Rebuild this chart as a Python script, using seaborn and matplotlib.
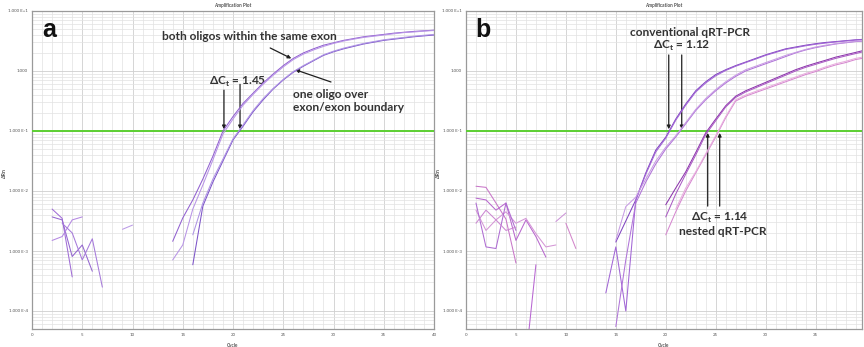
import numpy as np
import pandas as pd
import matplotlib
matplotlib.use('Agg')
import matplotlib.pyplot as plt
from matplotlib.ticker import MultipleLocator, LogLocator, FixedLocator, NullFormatter
import seaborn as sns

# delta Rn per cycle; every trace starts at the cycle given next to it
# ---- panel a ----
a_same_1_start = 14
a_same_1 = [1.45e-3, 3.55e-3, 7.1e-3, 0.0158, 0.038, 0.100, 0.174, 0.288, 0.427, 0.631,
            0.891, 1.23, 1.62, 2.00, 2.34, 2.69, 2.95, 3.24, 3.47, 3.72, 3.89, 4.07,
            4.27, 4.42, 4.57, 4.68, 4.79]
a_same_2_start = 14
a_same_2 = [7.1e-4, 1.26e-3, 5.0e-3, 0.0126, 0.033, 0.089, 0.158, 0.269, 0.407, 0.603,
            0.851, 1.17, 1.55, 1.91, 2.24, 2.57, 2.88, 3.16, 3.39, 3.63, 3.80, 3.98,
            4.17, 4.37, 4.47, 4.62, 4.73]
a_bound_1_start = 16
a_bound_1 = [5.9e-4, 5.6e-3, 0.0141, 0.0316, 0.0708, 0.120, 0.209, 0.331, 0.501, 0.708,
             0.955, 1.20, 1.48, 1.82, 2.09, 2.34, 2.57, 2.82, 3.02, 3.24, 3.39, 3.55,
             3.72, 3.85, 3.98]
a_bound_2_start = 16
a_bound_2 = [1.86e-3, 6.3e-3, 0.0158, 0.034, 0.074, 0.126, 0.219, 0.347, 0.513, 0.724,
             0.977, 1.23, 1.51, 1.86, 2.14, 2.40, 2.63, 2.88, 3.09, 3.31, 3.47, 3.63,
             3.80, 3.94, 4.07]
# early-cycle noise, panel a
a_noise_1 = (2, [5.0e-3, 3.5e-3, 3.7e-4])
a_noise_2 = (2, [3.7e-3, 3.3e-3, 8.1e-4, 1.26e-3, 4.6e-4])
a_noise_3 = (2, [1.5e-3, 1.74e-3, 3.3e-3, 3.7e-3])
a_noise_4 = (3, [2.9e-3, 2.0e-3, 7.1e-4, 1.6e-3, 2.5e-4])
a_noise_5 = (9, [2.3e-3, 2.7e-3])

# ---- panel b ----
b_conv_1_start = 15
b_conv_1 = [1.41e-3, 3.16e-3, 7.1e-3, 0.020, 0.048, 0.079, 0.158, 0.282, 0.468, 0.661,
            0.871, 1.05, 1.23, 1.41, 1.62, 1.86, 2.09, 2.34, 2.51, 2.69, 2.85, 2.99,
            3.09, 3.20, 3.31, 3.39]
b_conv_2_start = 14
b_conv_2 = [2.0e-4, 1.17e-3, 1.0e-4, 7.1e-3, 0.019, 0.0447, 0.0759, 0.151, 0.269, 0.447,
            0.631, 0.832, 1.02, 1.20, 1.38, 1.58, 1.82, 2.04, 2.29, 2.45, 2.63, 2.79,
            2.92, 3.05, 3.16, 3.27, 3.35]
b_conv_3_start = 15
b_conv_3 = [5.5e-5, 7.1e-4, 6.3e-3, 0.0141, 0.0282, 0.0501, 0.0794, 0.132, 0.219, 0.331,
            0.468, 0.631, 0.813, 1.00, 1.15, 1.32, 1.51, 1.74, 2.00, 2.24, 2.45, 2.63,
            2.82, 2.95, 3.09, 3.16]
b_conv_4_start = 15
b_conv_4 = [1.51e-3, 5.5e-3, 7.9e-3, 0.0158, 0.0316, 0.0537, 0.0832, 0.138, 0.229, 0.347,
            0.490, 0.661, 0.851, 1.05, 1.20, 1.38, 1.58, 1.82, 2.04, 2.29, 2.51, 2.69,
            2.85, 2.99, 3.13, 3.20]
b_nest_1_start = 20
b_nest_1 = [5.9e-3, 0.0112, 0.0209, 0.0437, 0.0933, 0.158, 0.263, 0.380, 0.468, 0.550,
            0.646, 0.759, 0.891, 1.05, 1.20, 1.35, 1.51, 1.70, 1.86, 2.04, 2.24]
b_nest_2_start = 20
b_nest_2 = [3.7e-3, 8.9e-3, 0.0191, 0.0398, 0.0871, 0.148, 0.251, 0.363, 0.447, 0.525,
            0.617, 0.724, 0.851, 1.00, 1.15, 1.29, 1.45, 1.62, 1.78, 1.95, 2.14]
b_nest_3_start = 20
b_nest_3 = [1.86e-3, 4.5e-3, 0.010, 0.020, 0.0398, 0.0794, 0.166, 0.316, 0.380, 0.437,
            0.501, 0.575, 0.661, 0.759, 0.871, 0.977, 1.12, 1.26, 1.38, 1.55, 1.66]
b_nest_4_start = 21
b_nest_4 = [5.0e-3, 0.0112, 0.0209, 0.0417, 0.0832, 0.174, 0.331, 0.398, 0.457, 0.525,
            0.603, 0.692, 0.794, 0.912, 1.02, 1.17, 1.32, 1.45, 1.62, 1.74]
# early-cycle noise, panel b
b_noise_1 = (1, [0.0120, 0.0115, 6.3e-3, 3.4e-3, 6.3e-4])
b_noise_2 = (1, [7.6e-3, 7.1e-3, 4.8e-3, 6.3e-3, 1.5e-3, 3.3e-3, 1.74e-3, 7.9e-4])
b_noise_3 = (1, [4.8e-3, 2.2e-3, 3.3e-3, 4.5e-3, 2.9e-3, 3.5e-3, 1.95e-3, 1.17e-3, 1.26e-3])
b_noise_4 = (1, [6.3e-3, 1.17e-3, 1.1e-3, 6.3e-3, 2.2e-3])
b_noise_5 = (1, [2.9e-3, 4.8e-3, 3.3e-3, 2.2e-3, 2.5e-3])
b_noise_6 = (9, [3.1e-3, 4.3e-3])
b_noise_7 = (10, [2.9e-3, 1.1e-3])
b_noise_8 = (6, [1.6e-5, 5.9e-4])

threshold = 0.1
y_ticks = [1e-4, 1e-3, 1e-2, 1e-1, 1e0, 1e1]
y_tick_labels = ['1.000 E-4', '1.000 E-3', '1.000 E-2', '1.000 E-1', '1.000', '1.000 E+1']
x_ticks = [0, 5, 10, 15, 20, 25, 30, 35, 40]

a_traces = {
    'same1': (a_same_1_start, a_same_1), 'same2': (a_same_2_start, a_same_2),
    'bound1': (a_bound_1_start, a_bound_1), 'bound2': (a_bound_2_start, a_bound_2),
    'n1': a_noise_1, 'n2': a_noise_2, 'n3': a_noise_3, 'n4': a_noise_4, 'n5': a_noise_5,
}
a_colors = {'same1': '#9160d0', 'same2': '#b894e6', 'bound1': '#7c54c8', 'bound2': '#ae94e4',
            'n1': '#a06cd6', 'n2': '#9466d0', 'n3': '#b488e2', 'n4': '#a67ada', 'n5': '#bb9ae6'}

b_traces = {
    'conv1': (b_conv_1_start, b_conv_1), 'conv2': (b_conv_2_start, b_conv_2),
    'conv3': (b_conv_3_start, b_conv_3), 'conv4': (b_conv_4_start, b_conv_4),
    'nest1': (b_nest_1_start, b_nest_1), 'nest2': (b_nest_2_start, b_nest_2),
    'nest3': (b_nest_3_start, b_nest_3), 'nest4': (b_nest_4_start, b_nest_4),
    'n1': b_noise_1, 'n2': b_noise_2, 'n3': b_noise_3, 'n4': b_noise_4,
    'n5': b_noise_5, 'n6': b_noise_6, 'n7': b_noise_7, 'n8': b_noise_8,
}
b_colors = {'conv1': '#8044c0', 'conv2': '#a266d6', 'conv3': '#b074d8', 'conv4': '#c89ce4',
            'nest1': '#8c36ac', 'nest2': '#ab5cc4', 'nest3': '#d688d0', 'nest4': '#e8b0de',
            'n1': '#c876c8', 'n2': '#b868ce', 'n3': '#d496d6', 'n4': '#ae6cd2',
            'n5': '#cc88d2', 'n6': '#cc94d8', 'n7': '#d286ca', 'n8': '#b866d2'}


def to_frame(traces):
    rows = []
    for name, (start, vals) in traces.items():
        for i, v in enumerate(vals):
            rows.append({'trace': name, 'cycle': start + i, 'drn': v})
    return pd.DataFrame(rows)


sns.set_style('white')
plt.rcParams['font.family'] = ['Lato', 'DejaVu Sans']

fig = plt.figure(figsize=(8.64, 3.47), dpi=100)
W, H = 864, 347
ax_a = fig.add_axes([32 / W, 1 - 329 / H, 402 / W, 318 / H])
ax_b = fig.add_axes([466 / W, 1 - 329 / H, 396 / W, 318 / H])


def style_axes(ax, xmax):
    ax.set_yscale('log')
    ax.set_ylim(10 ** -4.3, 10)
    ax.set_xlim(0, xmax)
    ax.xaxis.set_major_locator(FixedLocator(x_ticks))
    ax.xaxis.set_minor_locator(MultipleLocator(1))
    ax.yaxis.set_major_locator(FixedLocator(y_ticks))
    ax.yaxis.set_minor_locator(LogLocator(base=10, subs=np.arange(2, 10), numticks=20))
    ax.yaxis.set_minor_formatter(NullFormatter())
    ax.set_xticklabels([str(t) for t in x_ticks])
    ax.set_yticklabels(y_tick_labels)
    ax.tick_params(which='both', length=0, labelsize=3.2, labelcolor='#555555', pad=3)
    ax.grid(True, which='major', color='#cfcfcf', lw=0.6)
    ax.grid(True, which='minor', color='#e2e2e2', lw=0.5)
    ax.set_axisbelow(True)
    for s in ax.spines.values():
        s.set_color('#9a9a9a')
        s.set_linewidth(0.9)
    ax.axhline(threshold, color='#5ccf32', lw=1.4, zorder=3)
    ax.set_title('Amplification Plot', fontsize=3.4, fontweight='bold', color='#555555', pad=3)
    ax.set_xlabel('Cycle', fontsize=3.4, fontweight='bold', color='#555555')
    ax.set_ylabel('ΔRn', fontsize=3.8, fontweight='bold', color='#555555')
    ax.xaxis.set_label_coords(0.5, -0.044)
    ax.yaxis.set_label_coords(-0.062, 0.49)


for ax, traces, colors in [(ax_a, a_traces, a_colors), (ax_b, b_traces, b_colors)]:
    sns.lineplot(data=to_frame(traces), x='cycle', y='drn', hue='trace', palette=colors,
                 estimator=None, sort=False, legend=False, lw=0.75, ax=ax, zorder=4)

style_axes(ax_a, 40)
style_axes(ax_b, 39.65)

txt = dict(fontsize=8.6, fontweight='bold', color='#333333')
arr = dict(arrowstyle='-|>', lw=0.9, color='#1f1f1f', mutation_scale=5, shrinkA=0, shrinkB=0)

ax_a.text(0.025, 0.918, 'a', transform=ax_a.transAxes, fontsize=18, fontweight='bold',
          family='Liberation Sans', va='baseline', color='#111111')
ax_a.text(21.6, 3.69, 'both oligos within the same exon', ha='center', va='center', **txt)
ax_a.annotate('', xy=(25.8, 1.62), xytext=(23.7, 2.42), arrowprops=arr)
ax_a.text(26.0, 0.316, 'one oligo over\nexon/exon boundary', ha='left', va='center',
          linespacing=1.3, **txt)
ax_a.annotate('', xy=(26.2, 1.05), xytext=(29.75, 0.656), arrowprops=arr)
ax_a.text(20.45, 0.656, 'ΔC$_\\mathregular{t}$ = 1.45', ha='center', va='center', **txt)
ax_a.annotate('', xy=(19.1, 0.107), xytext=(19.1, 0.48), arrowprops=arr)
ax_a.annotate('', xy=(20.7, 0.107), xytext=(20.7, 0.60), arrowprops=arr)

ax_b.text(0.023, 0.918, 'b', transform=ax_b.transAxes, fontsize=18, fontweight='bold',
          family='Liberation Sans', va='baseline', color='#111111')
ax_b.text(22.4, 4.30, 'conventional qRT-PCR', ha='center', va='center', **txt)
ax_b.text(21.6, 2.61, 'ΔC$_\\mathregular{t}$ = 1.12', ha='center', va='center', **txt)
ax_b.annotate('', xy=(20.3, 0.107), xytext=(20.3, 1.85), arrowprops=arr)
ax_b.annotate('', xy=(21.6, 0.107), xytext=(21.6, 1.85), arrowprops=arr)
ax_b.text(25.4, 3.55e-3, 'ΔC$_\\mathregular{t}$ = 1.14', ha='center', va='center', **txt)
ax_b.text(25.7, 2.15e-3, 'nested qRT-PCR', ha='center', va='center', **txt)
ax_b.annotate('', xy=(24.2, 0.093), xytext=(24.2, 5.6e-3), arrowprops=arr)
ax_b.annotate('', xy=(25.4, 0.093), xytext=(25.4, 5.6e-3), arrowprops=arr)

fig.savefig('out.png', dpi=100)
